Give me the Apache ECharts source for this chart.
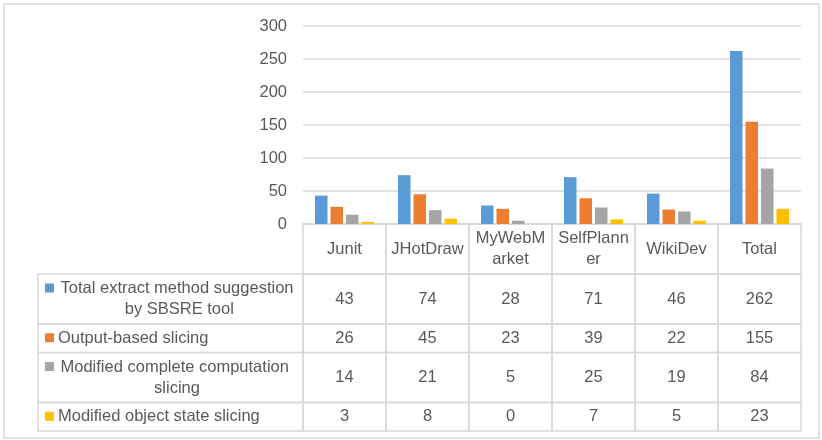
<!DOCTYPE html>
<html>
<head>
<meta charset="utf-8">
<script src="https://cdn.jsdelivr.net/npm/echarts@6/dist/echarts.min.js"></script>
<style>
html,body{margin:0;padding:0;background:#fff;}
#chart{width:822px;height:440px;}
</style>
</head>
<body>
<div id="chart"></div>
<script>
const categories = ['Junit', 'JHotDraw', 'MyWebMarket', 'SelfPlanner', 'WikiDev', 'Total'];
const seriesNames = [
  'Total extract method suggestion by SBSRE tool',
  'Output-based slicing',
  'Modified complete computation slicing',
  'Modified object state slicing'
];
const totalSuggestions = [43, 74, 28, 71, 46, 262];
const outputBased = [26, 45, 23, 39, 22, 155];
const completeComputation = [14, 21, 5, 25, 19, 84];
const objectState = [3, 8, 0, 7, 5, 23];
const yTickValues = [0, 50, 100, 150, 200, 250, 300];

const seriesValues = [totalSuggestions, outputBased, completeComputation, objectState];
const colors = ['#5B9BD5', '#ED7D31', '#A5A5A5', '#FFC000'];
const textColor = '#595959';
const lineColor = '#D9D9D9';
const FONT_FAMILY = '"Liberation Sans", Arial, sans-serif';
const FONT_SIZE = 16.5;
const FONT = FONT_SIZE + 'px ' + FONT_FAMILY;
const LINE_H = 21;

// layout
const plotLeft = 303, plotRight = 21, plotTop = 26, plotBottomY = 224;
const legendColWidth = 265;
const legendTextOffset = 245;
const legendTextWidth = 238;

const mctx = document.createElement('canvas').getContext('2d');
mctx.font = FONT;
const rowLines = seriesNames.map(n => mctx.measureText(n).width > legendTextWidth ? 2 : 1);
const headerLines = 2;
const rowHeights = [headerLines].concat(rowLines).map(l => l * 21.5 + 7);
const rowTops = [];
let acc = 0;
rowHeights.forEach(h => { rowTops.push(acc); acc += h; });
const tableTotal = acc;

const cellData = [];
for (let c = 0; c < categories.length; c++) {
  for (let r = 0; r <= seriesNames.length; r++) cellData.push([c, r]);
}
const legendData = seriesNames.map((n, i) => [0, i + 1]);

function renderCell(params, api) {
  const c = api.value(0), r = api.value(1);
  const top = rowTops[r], bot = rowTops[r] + rowHeights[r];
  const p1 = api.coord([c, top]);
  const p2 = api.coord([c, bot]);
  const w = api.size([1, 0])[0];
  const x0 = p1[0] - w / 2;
  const text = r === 0 ? categories[c] : String(seriesValues[r - 1][c]);
  return {
    type: 'group',
    children: [
      { type: 'rect', shape: { x: x0, y: p1[1], width: w, height: p2[1] - p1[1] },
        style: { fill: null, stroke: lineColor, lineWidth: 1.5 } },
      { type: 'text', style: {
          text: text, x: p1[0], y: (p1[1] + p2[1]) / 2,
          width: 76, overflow: 'breakAll', lineHeight: LINE_H,
          align: 'center', verticalAlign: 'middle', font: FONT, fill: textColor } }
    ]
  };
}

function renderLegendCell(params, api) {
  const r = api.value(1);
  const cs = params.coordSys;
  const top = rowTops[r], bot = rowTops[r] + rowHeights[r];
  const y1 = api.coord([0, top])[1];
  const y2 = api.coord([0, bot])[1];
  const lines = rowLines[r - 1];
  const mid = (y1 + y2) / 2;
  const firstLineMid = mid - (lines - 1) * LINE_H / 2;
  const textX0 = cs.x - legendTextOffset;
  const name = seriesNames[r - 1];
  const txt = lines > 1
    ? { text: name, x: textX0 + legendTextWidth / 2, y: mid, width: legendTextWidth, overflow: 'break',
        lineHeight: LINE_H, align: 'center', verticalAlign: 'middle', font: FONT, fill: textColor }
    : { text: name, x: textX0, y: mid, lineHeight: LINE_H,
        align: 'left', verticalAlign: 'middle', font: FONT, fill: textColor };
  return {
    type: 'group',
    children: [
      { type: 'rect', shape: { x: cs.x - legendColWidth, y: y1, width: legendColWidth, height: y2 - y1 },
        style: { fill: null, stroke: lineColor, lineWidth: 1.5 } },
      { type: 'rect', shape: { x: cs.x - 258, y: firstLineMid - 5, width: 9, height: 9 },
        style: { fill: colors[r - 1] } },
      { type: 'text', style: txt }
    ]
  };
}

const chart = echarts.init(document.getElementById('chart'), null, { renderer: 'canvas' });
const option = {
  animation: false,
  backgroundColor: '#fff',
  graphic: [{
    type: 'rect', shape: { x: 4, y: 4, width: 815, height: 434 },
    style: { fill: null, stroke: lineColor, lineWidth: 1.5 }, silent: true, z: -1
  }],
  grid: [
    { left: plotLeft, right: plotRight, top: plotTop, bottom: 440 - plotBottomY, outerBoundsMode: 'none', containLabel: false },
    { left: plotLeft, right: plotRight, top: plotBottomY, height: tableTotal, outerBoundsMode: 'none', containLabel: false }
  ],
  xAxis: [
    { type: 'category', gridIndex: 0, data: categories,
      axisLine: { lineStyle: { color: lineColor, width: 1.5 } },
      axisTick: { show: false }, axisLabel: { show: false }, splitLine: { show: false } },
    { type: 'category', gridIndex: 1, data: categories, show: false }
  ],
  yAxis: [
    { type: 'value', gridIndex: 0, min: yTickValues[0], max: yTickValues[yTickValues.length - 1], interval: 50,
      axisLine: { show: false }, axisTick: { show: false },
      axisLabel: { color: textColor, fontSize: FONT_SIZE, fontFamily: FONT_FAMILY, margin: 16 },
      splitLine: { lineStyle: { color: lineColor, width: 1.5 } } },
    { type: 'value', gridIndex: 1, min: 0, max: tableTotal, inverse: true, show: false }
  ],
  series: seriesNames.map((n, i) => ({
    name: n, type: 'bar', xAxisIndex: 0, yAxisIndex: 0,
    data: seriesValues[i], barWidth: 12.5, barGap: '24%',
    itemStyle: { color: colors[i] }
  })).concat([
    { type: 'custom', xAxisIndex: 1, yAxisIndex: 1, data: cellData, renderItem: renderCell, silent: true, clip: false },
    { type: 'custom', xAxisIndex: 1, yAxisIndex: 1, data: legendData, renderItem: renderLegendCell, silent: true, clip: false }
  ])
};
chart.setOption(option);
</script>
</body>
</html>
